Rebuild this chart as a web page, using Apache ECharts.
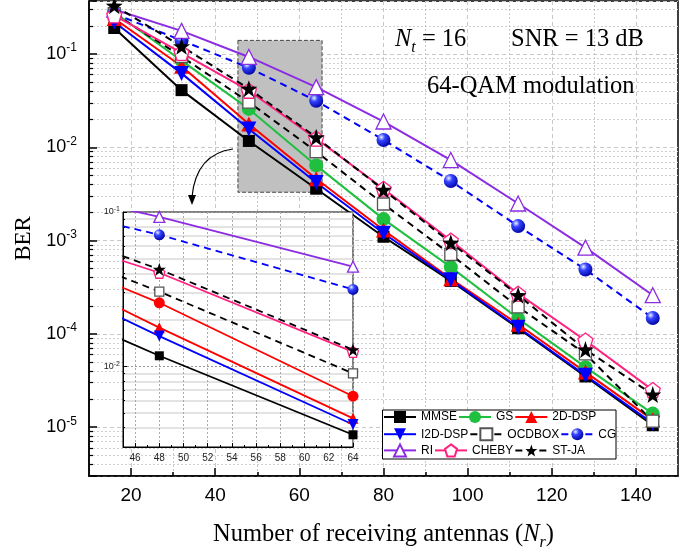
<!DOCTYPE html>
<html>
<head>
<meta charset="utf-8">
<title>BER vs number of receiving antennas</title>
<script src="https://cdn.jsdelivr.net/npm/echarts@6.0.0/dist/echarts.min.js"></script>
<style>
    html, body { margin: 0; padding: 0; background: #fff; }
    #main { width: 696px; height: 551px; }
</style>
</head>
<body>
<div id="main"></div>
<script>
// receiving antennas
var nr = [16, 32, 48, 64, 80, 96, 112, 128, 144];
// BER per detector
var mmse   = [0.19, 0.041, 0.0117, 0.0036, 0.0011, 0.00037, 0.000115, 3.5e-5, 1.05e-5];
var gs     = [0.28, 0.085, 0.0258, 0.0064, 0.0017, 0.00052, 0.000146, 4.4e-5, 1.4e-5];
var dsp2d  = [0.24, 0.074, 0.0178, 0.0046, 0.0013, 0.00039, 0.000127, 3.9e-5, 1.2e-5];
var i2ddsp = [0.22, 0.062, 0.0157, 0.0042, 0.0012, 0.00038, 0.000118, 3.6e-5, 1.1e-5];
var ocdbox = [0.27, 0.094, 0.0305, 0.009, 0.00247, 0.00071, 0.000195, 6.1e-5, 1.16e-5];
var cg     = [0.27, 0.14, 0.0712, 0.0315, 0.012, 0.00435, 0.00143, 0.00049, 0.000148];
var ri     = [0.30, 0.177, 0.093, 0.0442, 0.0189, 0.0073, 0.0025, 0.00084, 0.00026];
var cheby  = [0.26, 0.103, 0.0404, 0.0124, 0.0036, 0.001, 0.00027, 8.5e-5, 2.5e-5];
var stja   = [0.33, 0.121, 0.0425, 0.0128, 0.0035, 0.00095, 0.00026, 6.8e-5, 2.24e-5];

// ticks
var xMajor = [20, 40, 60, 80, 100, 120, 140];
var xMinor = [30, 50, 70, 90, 110, 130];
var insetMajor = [46, 48, 50, 52, 54, 56, 58, 60, 62, 64];
var insetMinor = [45, 47, 49, 51, 53, 55, 57, 59, 61, 63];
var logMinor = [2, 3, 4, 5, 6, 7, 8, 9];
var yMin = 3e-6, yMax = 0.37;
var insetMin = 0.003, insetMax = 0.1;
// zoomed region (grey box)
var zoomBox = [[45.4, 0.14], [65.4, 0.0033]];

var legendRows = [['MMSE', 'GS', '2D-DSP'], ['I2D-DSP', 'OCDBOX', 'CG'], ['RI', 'CHEBY', 'ST-JA']];

var serif = '"Times New Roman", "Liberation Serif", serif';
var sans = 'Arial, "Liberation Sans", sans-serif';
var pentagon = 'path://M0,-10L9.51,-3.09L5.88,8.09L-5.88,8.09L-9.51,-3.09Z';
var star = 'path://M0,-10L2.35,-3.24L9.51,-3.09L3.8,1.24L5.88,8.09L0,4L-5.88,8.09L-3.8,1.24L-9.51,-3.09L-2.35,-3.24Z';
var sphere = {
    type: 'radial', x: 0.35, y: 0.3, r: 0.75,
    colorStops: [{offset: 0, color: '#eef0ff'}, {offset: 0.35, color: '#3344ff'}, {offset: 1, color: '#0000a0'}]
};
var dash = [7, 5];

var styles = [
    {name: 'MMSE', data: mmse, color: '#000', symbol: 'rect', size: 12, fill: '#000'},
    {name: 'GS', data: gs, color: '#1fbf3f', symbol: 'circle', size: 14, fill: '#1fbf3f', insetColor: '#ff0000'},
    {name: '2D-DSP', data: dsp2d, color: '#ff0000', symbol: 'triangle', size: 15, fill: '#ff0000'},
    {name: 'I2D-DSP', data: i2ddsp, color: '#0000ff', symbol: 'triangle', rotate: 180, size: 15, fill: '#0000ff'},
    {name: 'OCDBOX', data: ocdbox, color: '#000', symbol: 'rect', size: 12, fill: '#fff', border: '#555', dash: dash},
    {name: 'CG', data: cg, color: '#0000ff', symbol: 'circle', size: 14, fill: sphere, dash: dash},
    {name: 'RI', data: ri, color: '#8b2be2', symbol: 'triangle', size: 15, fill: '#fff', border: '#8b2be2'},
    {name: 'CHEBY', data: cheby, color: '#ff2080', symbol: pentagon, size: 15, fill: '#fff', border: '#ff2080'},
    {name: 'ST-JA', data: stja, color: '#000', symbol: star, size: 17, fill: '#000', dash: dash}
];

function minorLogTicks(lo, hi) {
    var out = [];
    for (var e = Math.floor(Math.log10(lo)); e <= Math.ceil(Math.log10(hi)); e++) {
        logMinor.forEach(function (k) {
            var v = k * Math.pow(10, e);
            if (v > lo && v < hi) out.push(Math.log10(v));
        });
    }
    return out;
}

function powLabel(v) {
    var e = Math.round(Math.log10(v));
    if (Math.abs(Math.log10(v) - e) > 1e-6) return '';
    return '10{sup|' + e + '}';
}

function makeSeries(s, inset) {
    var c = inset && s.insetColor ? s.insetColor : s.color;
    var fill = inset && s.insetColor ? s.insetColor : s.fill;
    return {
        name: s.name,
        type: 'line',
        xAxisIndex: inset ? 2 : 0,
        yAxisIndex: inset ? 2 : 0,
        data: nr.map(function (x, i) { return [x, s.data[i]]; }),
        symbol: s.symbol,
        symbolSize: inset ? Math.round(s.size * 0.76) : s.size,
        symbolRotate: s.rotate || 0,
        lineStyle: {color: c, width: inset ? 1.8 : 2, type: s.dash || 'solid'},
        itemStyle: {color: fill, borderColor: s.border || c, borderWidth: s.border ? 1.3 : 0},
        emphasis: {disabled: true},
        clip: true,
        z: inset ? 12 : 2
    };
}

var series = [];
// grey box marking the zoomed region
series.push({
    type: 'line', xAxisIndex: 0, yAxisIndex: 0, data: [], z: 1, silent: true,
    markArea: {
        silent: true,
        itemStyle: {color: '#c0c0c0', borderColor: '#444', borderWidth: 1, borderType: [4, 2]},
        data: [[{coord: zoomBox[0]}, {coord: zoomBox[1]}]]
    }
});
styles.forEach(function (s) { series.push(makeSeries(s, false)); });
styles.forEach(function (s) { series.push(makeSeries(s, true)); });

var chart = echarts.init(document.getElementById('main'));
var option = {
    animation: false,
    backgroundColor: '#fff',
    textStyle: {fontFamily: sans},
    grid: [
        {left: 89, right: 18, top: 1, bottom: 75, show: true, borderColor: '#000', borderWidth: 1.5, outerBoundsMode: 'none'},
        {left: 123, top: 212, width: 230, height: 235, show: true, backgroundColor: '#fff',
            borderColor: '#000', borderWidth: 1, z: 10, outerBoundsMode: 'none'}
    ],
    xAxis: [
        {
            type: 'value', gridIndex: 0, min: 10, max: 150, interval: 10,
            axisLine: {lineStyle: {color: '#000', width: 1.5}},
            axisTick: {inside: true, length: 8, customValues: xMajor, lineStyle: {color: '#000', width: 1.5}},
            axisLabel: {customValues: xMajor, color: '#000', fontSize: 19, fontFamily: sans, margin: 10},
            splitLine: {show: true, lineStyle: {color: '#c8c8c8', type: [4, 3], width: 1}},
            name: 'Number of receiving antennas ({i|N}{sub|r})',
            nameLocation: 'middle', nameGap: 43,
            nameTextStyle: {
                fontFamily: serif, fontSize: 24.5, color: '#000', lineHeight: 32,
                rich: {
                    i: {fontFamily: serif, fontSize: 24.5, fontStyle: 'italic', color: '#000', lineHeight: 32},
                    sub: {fontFamily: serif, fontSize: 16, fontStyle: 'italic', color: '#000', verticalAlign: 'bottom'}
                }
            }
        },
        {
            type: 'value', gridIndex: 0, position: 'bottom', min: 10, max: 150, interval: 10,
            axisLine: {show: false},
            axisTick: {inside: true, length: 4, customValues: xMinor, lineStyle: {color: '#000', width: 1.5}},
            axisLabel: {show: false},
            splitLine: {show: true, lineStyle: {color: '#c8c8c8', type: [2, 2], width: 1}}
        },
        {
            type: 'value', gridIndex: 1, min: 45, max: 64, interval: 1, z: 11,
            axisLine: {lineStyle: {color: '#000', width: 1}},
            axisTick: {inside: true, length: 4, customValues: insetMajor, lineStyle: {color: '#000', width: 1}},
            axisLabel: {customValues: insetMajor, color: '#222', fontSize: 10, fontFamily: sans, margin: 6},
            splitLine: {show: true, lineStyle: {color: '#aaa', type: [2, 2], width: 1}}
        },
        {
            type: 'value', gridIndex: 1, position: 'bottom', min: 45, max: 64, interval: 1, z: 11,
            axisLine: {show: false},
            axisTick: {inside: true, length: 2, customValues: insetMinor, lineStyle: {color: '#000', width: 1}},
            axisLabel: {show: false},
            splitLine: {show: false}
        }
    ],
    yAxis: [
        {
            type: 'log', logBase: 10, gridIndex: 0, min: yMin, max: yMax,
            axisLine: {lineStyle: {color: '#000', width: 1.5}},
            axisTick: {inside: true, length: 8, lineStyle: {color: '#000', width: 1.5}},
            axisLabel: {
                formatter: powLabel, color: '#000', fontSize: 18, fontFamily: sans, margin: 12, lineHeight: 24,
                rich: {sup: {fontSize: 12, fontFamily: sans, color: '#000', verticalAlign: 'top'}}
            },
            splitLine: {show: true, lineStyle: {color: '#c8c8c8', type: [4, 3], width: 1}},
            name: 'BER', nameLocation: 'middle', nameGap: 51,
            nameTextStyle: {fontFamily: serif, fontSize: 23, color: '#000'}
        },
        {
            type: 'value', gridIndex: 0, position: 'left',
            min: Math.log10(yMin), max: Math.log10(yMax),
            axisLine: {show: false},
            axisTick: {inside: true, length: 4, customValues: minorLogTicks(yMin, yMax), lineStyle: {color: '#000', width: 1.2}},
            axisLabel: {show: false},
            splitLine: {show: true, lineStyle: {color: '#d0d0d0', type: [2, 2], width: 1}}
        },
        {
            type: 'log', logBase: 10, gridIndex: 1, min: insetMin, max: insetMax, z: 11,
            axisLine: {lineStyle: {color: '#000', width: 1}},
            axisTick: {inside: true, length: 4, lineStyle: {color: '#000', width: 1}},
            axisLabel: {
                formatter: powLabel, color: '#222', fontSize: 9, fontFamily: sans, margin: 3, lineHeight: 12,
                rich: {sup: {fontSize: 7, fontFamily: sans, color: '#222', verticalAlign: 'top'}}
            },
            splitLine: {show: true, lineStyle: {color: '#999', type: [2, 2], width: 1}}
        },
        {
            type: 'value', gridIndex: 1, position: 'left', z: 11,
            min: Math.log10(insetMin), max: Math.log10(insetMax),
            axisLine: {show: false},
            axisTick: {inside: true, length: 2, customValues: minorLogTicks(insetMin, insetMax), lineStyle: {color: '#000', width: 1}},
            axisLabel: {show: false},
            splitLine: {show: true, lineStyle: {color: '#dadada', type: 'solid', width: 1.5}}
        }
    ],
    legend: legendRows.map(function (row, i) {
        return {
            data: row, left: 383, top: 411 + i * 16.2, orient: 'horizontal',
            itemWidth: 32, itemHeight: 15, itemGap: 1, padding: 0, selectedMode: false, z: 5,
            textStyle: {fontSize: 12, fontFamily: sans, color: '#000'}
        };
    }),
    graphic: [
        {type: 'rect', z: 3, shape: {x: 382.5, y: 410, width: 233.5, height: 49},
            style: {fill: '#fff', stroke: '#000', lineWidth: 1}},
        {type: 'text', z: 5, x: 395, y: 40, style: {
            text: '{i|N}{s|t}{n| = 16}', verticalAlign: 'middle',
            rich: {
                i: {fontFamily: serif, fontSize: 24.5, fontStyle: 'italic', fill: '#000', lineHeight: 32},
                s: {fontFamily: serif, fontSize: 16, fontStyle: 'italic', fill: '#000', verticalAlign: 'bottom'},
                n: {fontFamily: serif, fontSize: 24.5, fill: '#000', lineHeight: 32}
            }
        }},
        {type: 'text', z: 5, x: 511, y: 40, style: {
            text: 'SNR = 13 dB', font: '24.5px ' + serif, fill: '#000', verticalAlign: 'middle'
        }},
        {type: 'text', z: 5, x: 427, y: 87, style: {
            text: '64-QAM modulation', font: '24.5px ' + serif, fill: '#000', verticalAlign: 'middle'
        }},
        // arrow from the grey box down to the inset
        {type: 'bezierCurve', z: 5, shape: {x1: 233, y1: 149, cpx1: 196, cpy1: 154, x2: 192, y2: 197},
            style: {stroke: '#000', lineWidth: 1.2, fill: null}},
        {type: 'polygon', z: 5, shape: {points: [[188, 195], [196, 195], [192, 205]]},
            style: {fill: '#000'}}
    ],
    series: series
};
chart.setOption(option);
</script>
</body>
</html>
